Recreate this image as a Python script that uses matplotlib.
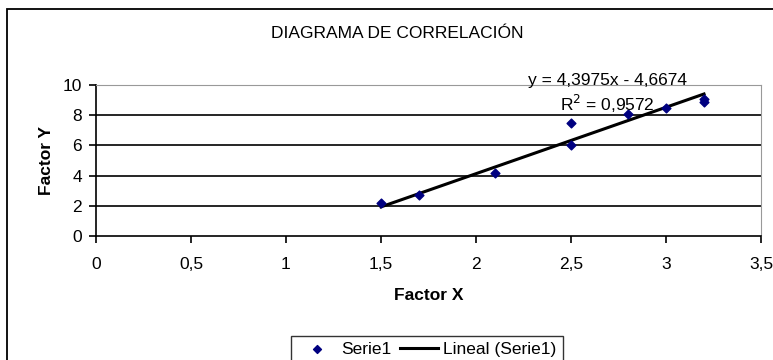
import numpy as np
import matplotlib.pyplot as plt
from matplotlib.patches import Rectangle

plt.rcParams['font.family'] = ['Liberation Sans', 'DejaVu Sans']

# Factor X / Factor Y observations
factor_x = [1.5, 1.7, 2.1, 2.5, 2.5, 2.8, 3.0, 3.2, 3.2]
factor_y = [2.2, 2.7, 4.2, 7.5, 6.0, 8.1, 8.5, 9.1, 8.9]

# Linear trend (as reported)
slope = 4.3975
intercept = -4.6674
r2 = 0.9572

x_ticks = [0, 0.5, 1, 1.5, 2, 2.5, 3, 3.5]
y_ticks = [0, 2, 4, 6, 8, 10]

FS = 12.5


def comma(v):
    return f"{v:g}".replace(".", ",")


fig = plt.figure(figsize=(7.73, 3.6), dpi=100)
fig.patches.append(Rectangle((7 / 773, -10 / 360), 800 / 773, 361 / 360, transform=fig.transFigure,
                             fill=False, edgecolor='black', linewidth=1.3))

ax = fig.add_axes([96 / 773, 1 - 236 / 360, 665 / 773, 151 / 360])

ax.scatter(factor_x, factor_y, marker='D', s=20, color='#000080', zorder=3, label='Serie1')
xl = np.array([min(factor_x), max(factor_x)])
ax.plot(xl, slope * xl + intercept, color='black', linewidth=2.2, zorder=2, label='Lineal (Serie1)')

ax.set_xlim(0, 3.5)
ax.set_ylim(0, 10)
ax.set_xticks(x_ticks)
ax.set_xticklabels([comma(v) for v in x_ticks])
ax.set_yticks(y_ticks)
ax.set_yticklabels([str(v) for v in y_ticks])
ax.tick_params(direction='out', length=5, width=1.2, labelsize=FS)
ax.tick_params(axis='y', pad=5)
ax.tick_params(axis='x', pad=10)
for y in y_ticks[1:-1]:
    ax.axhline(y, color='black', linewidth=1.2, zorder=1)

ax.spines['left'].set_color('black')
ax.spines['left'].set_linewidth(1.2)
ax.spines['bottom'].set_color('black')
ax.spines['bottom'].set_linewidth(1.2)
ax.spines['top'].set_color('#999999')
ax.spines['right'].set_color('#999999')

ax.set_xlabel('Factor X', fontsize=FS, fontweight='bold', labelpad=12)
ax.set_ylabel('Factor Y', fontsize=FS, fontweight='bold', labelpad=6)

fig.text(397 / 773, 1 - 33 / 360, 'DIAGRAMA DE CORRELACIÓN', ha='center', va='center', fontsize=FS)

fig.text(607 / 773, 1 - 80 / 360, f"y = {comma(slope)}x - {comma(-intercept)}",
         ha='center', va='center', fontsize=FS)
fig.text(607 / 773, 1 - 104 / 360, f"R$^2$ = {comma(r2)}",
         ha='center', va='center', fontsize=FS)

fig.legend(loc='upper center', bbox_to_anchor=(427 / 773, 1 - 327 / 360), ncol=2, fontsize=FS,
           frameon=True, fancybox=False, edgecolor='black', handlelength=2.2,
           columnspacing=0.5, handletextpad=0.3, borderpad=0.35, markerscale=0.9)

fig.savefig('out.png', dpi=100)
